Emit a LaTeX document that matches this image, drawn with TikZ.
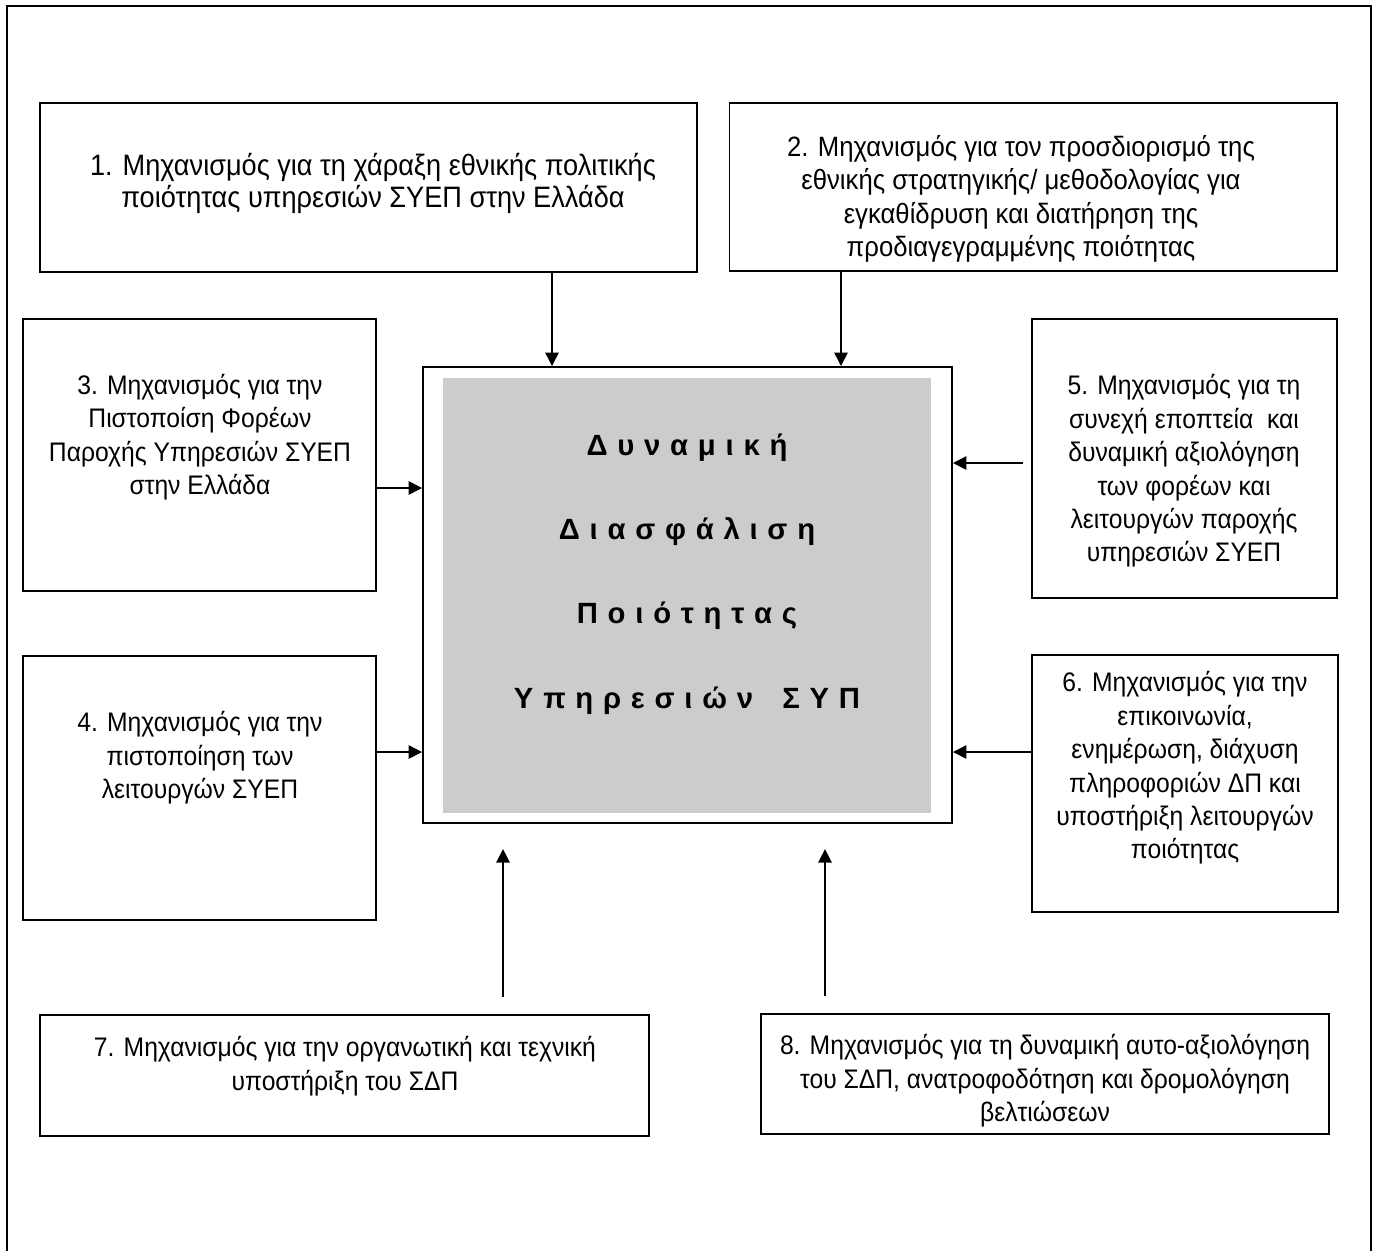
\documentclass[tikz,border=0pt]{standalone}
\usepackage{fontspec}
\setmainfont{Liberation Sans}
\newfontfamily\boxfont[FakeStretch=0.92]{Liberation Sans}
\newfontfamily\titlefont[WordSpace=1.2]{Liberation Sans}
\usetikzlibrary{arrows.meta}

\tikzset{
  frame/.style={line width=1.1pt},
  mbox/.style 2 args={draw, line width=0.8pt, inner sep=0pt, minimum width=#1*0.41pt, minimum height=#2*0.41pt},
  mtext/.style={align=center, inner sep=0pt, font=\boxfont\fontsize{11}{13.7}\selectfont},
  title/.style={align=center, inner sep=0pt, font=\titlefont\fontsize{12}{34.6}\selectfont\bfseries},
  arr/.style={line width=0.6pt, -{Triangle[length=5.5pt,width=5.5pt]}},
}

\begin{document}
\begin{tikzpicture}[x=0.41pt, y=-0.41pt]
	\useasboundingbox (0,0) rectangle (1378,1250);
	% page frame, open at the bottom
	\draw[frame] (7,1260) -- (7,6) -- (1371,6) -- (1371,1260);

	% centre
	\node[mbox={529}{456}] (ctr) at (687.5,595) {};
	\node[fill=black!20, inner sep=0pt, minimum width=488*0.41pt, minimum height=435*0.41pt] (core) at (687,595.5) {};
	\node[title] (ttl) at (687,574) {Δ υ ν α μ ι κ ή\\ Δ ι α σ φ ά λ ι σ η\\ Π ο ι ό τ η τ α ς\\ Υ π η ρ ε σ ι ώ ν \ \ Σ Υ Π};

	% mechanisms
	\node[mbox={657}{169}] (b1) at (368.5,187.5) {};
	\node[mbox={607}{168}] (b2) at (1033,187) {};
	\node[mbox={353}{272}] (b3) at (199.5,455) {};
	\node[mbox={353}{264}] (b4) at (199.5,788) {};
	\node[mbox={305}{279}] (b5) at (1184.5,458.5) {};
	\node[mbox={306}{257}] (b6) at (1185,783.5) {};
	\node[mbox={609}{121}] (b7) at (344.5,1075.5) {};
	\node[mbox={568}{120}] (b8) at (1045,1074) {};

	\node[mtext, font=\boxfont\fontsize{12.1}{13.1}\selectfont] (t1) at (373,183) {1. Μηχανισμός για τη χάραξη εθνικής πολιτικής\\ ποιότητας υπηρεσιών ΣΥΕΠ στην Ελλάδα};
	\node[mtext, font=\boxfont\fontsize{11.45}{13.7}\selectfont] (t2) at (1021,199) {2. Μηχανισμός για τον προσδιορισμό της\\ εθνικής στρατηγικής/ μεθοδολογίας για\\ εγκαθίδρυση και διατήρηση της\\ προδιαγεγραμμένης ποιότητας};
	\node[mtext] (t3) at (200,437) {3. Μηχανισμός για την\\ Πιστοποίση Φορέων\\ Παροχής Υπηρεσιών ΣΥΕΠ\\ στην Ελλάδα};
	\node[mtext] (t4) at (200,758) {4. Μηχανισμός για την\\ πιστοποίηση των\\ λειτουργών ΣΥΕΠ};
	\node[mtext] (t5) at (1184,471) {5. Μηχανισμός για τη\\ συνεχή εποπτεία\ \ και\\ δυναμική αξιολόγηση\\ των φορέων και\\ λειτουργών παροχής\\ υπηρεσιών ΣΥΕΠ};
	\node[mtext] (t6) at (1185,768) {6. Μηχανισμός για την\\ επικοινωνία,\\ ενημέρωση, διάχυση\\ πληροφοριών ΔΠ και\\ υποστήριξη λειτουργών\\ ποιότητας};
	\node[mtext] (t7) at (345,1066) {7. Μηχανισμός για την οργανωτική και τεχνική\\ υποστήριξη του ΣΔΠ};
	\node[mtext] (t8) at (1045,1081) {8. Μηχανισμός για τη δυναμική αυτο-αξιολόγηση\\ του ΣΔΠ, ανατροφοδότηση και δρομολόγηση\\ βελτιώσεων};

	% where the arrows run
	\coordinate (a1) at (552,0);
	\coordinate (a2) at (841,0);
	\coordinate (a3) at (0,488);
	\coordinate (a4) at (0,752);
	\coordinate (a5) at (0,463);
	\coordinate (a6) at (0,752);
	\coordinate (a7) at (503,0);
	\coordinate (a8) at (825,0);

	\draw[arr] (b1.south -| a1) -- (ctr.north -| a1);
	\draw[arr] (b2.south -| a2) -- (ctr.north -| a2);
	\draw[arr] (b3.east |- a3) -- (ctr.west |- a3);
	\draw[arr] (b4.east |- a4) -- (ctr.west |- a4);
	\draw[arr, shorten <=3.3pt] (b5.west |- a5) -- (ctr.east |- a5);
	\draw[arr] (b6.west |- a6) -- (ctr.east |- a6);
	\draw[arr, shorten <=7pt, shorten >=10.3pt] (b7.north -| a7) -- (ctr.south -| a7);
	\draw[arr, shorten <=7pt, shorten >=10.3pt] (b8.north -| a8) -- (ctr.south -| a8);
\end{tikzpicture}
\end{document}
